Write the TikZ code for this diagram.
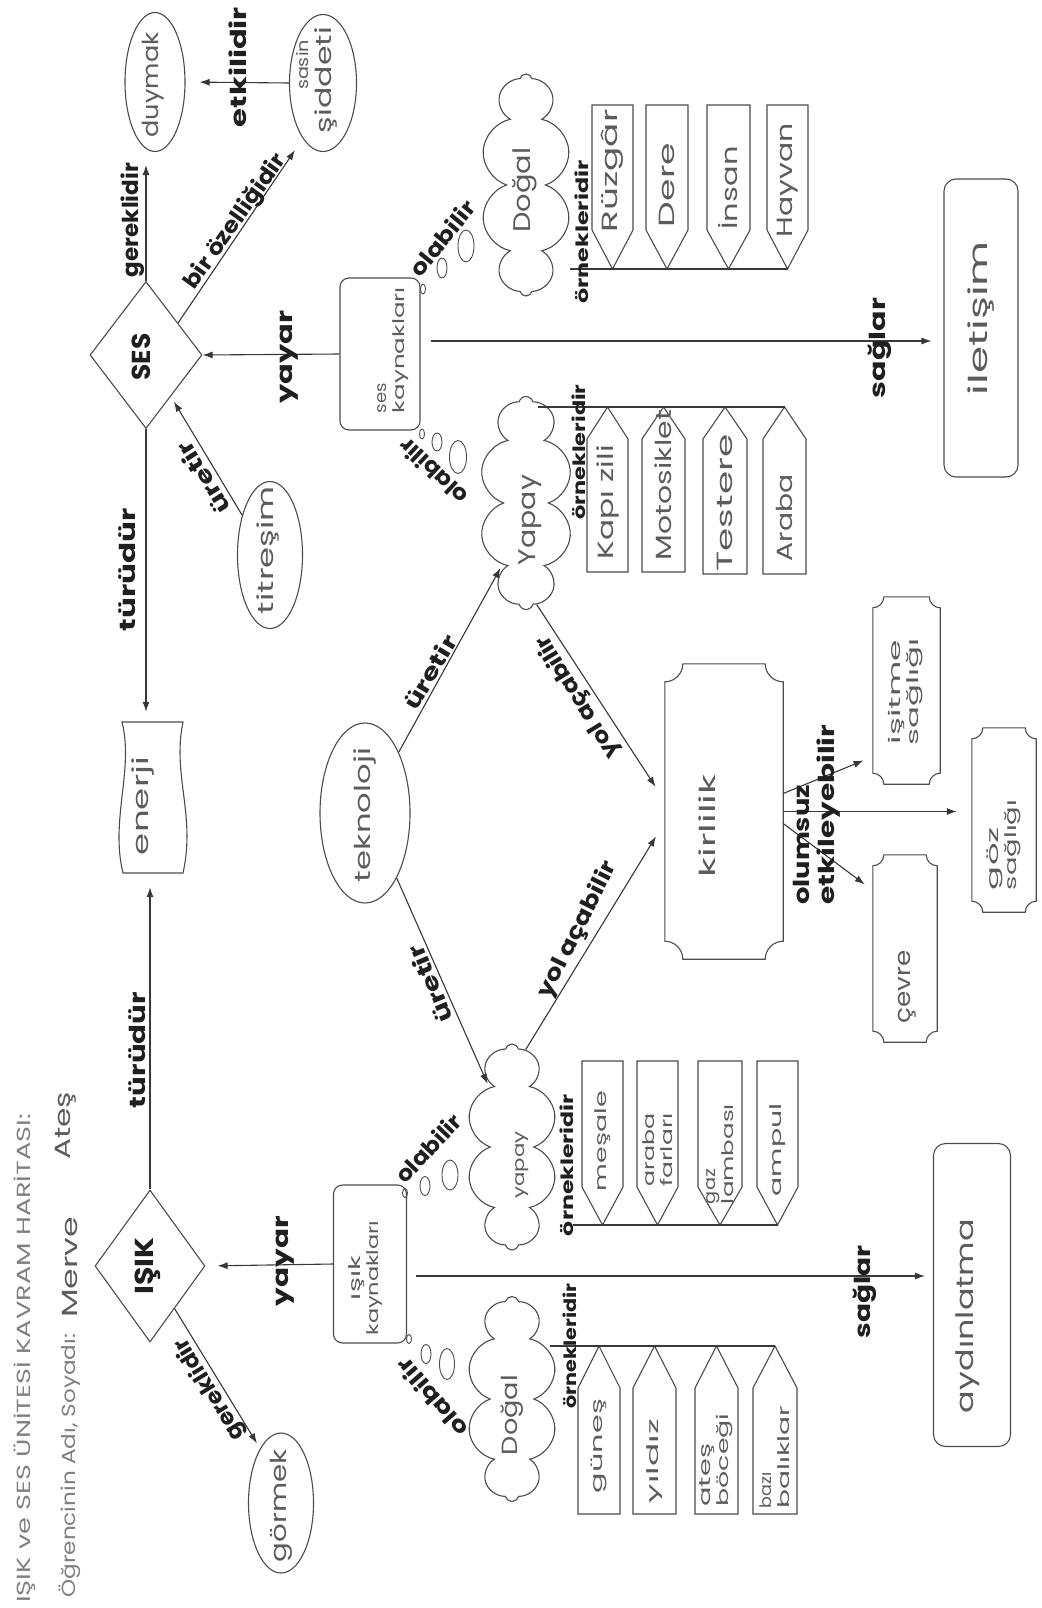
\documentclass[tikz,border=0pt]{standalone}
\usepackage{fontspec}
\usepackage{graphicx}
\setmainfont{Poppins}
\usetikzlibrary{shapes.geometric,shapes.symbols,arrows.meta,fit}
\newcommand\fitw[2]{\resizebox{#1pt}{\height}{#2}}
\newcommand\plaque[3]{%
  \draw[shp] ([xshift=#2pt]#1.north west) -- ([xshift=-#2pt]#1.north east)
    .. controls ([xshift=-#2pt,yshift=-#3pt]#1.north east) and ([xshift=-#3pt,yshift=-#2pt]#1.north east) .. ([yshift=-#2pt]#1.north east)
    -- ([yshift=#2pt]#1.south east)
    .. controls ([xshift=-#3pt,yshift=#2pt]#1.south east) and ([xshift=-#2pt,yshift=#3pt]#1.south east) .. ([xshift=-#2pt]#1.south east)
    -- ([xshift=#2pt]#1.south west)
    .. controls ([xshift=#2pt,yshift=#3pt]#1.south west) and ([xshift=#3pt,yshift=#2pt]#1.south west) .. ([yshift=#2pt]#1.south west)
    -- ([yshift=-#2pt]#1.north west)
    .. controls ([xshift=#3pt,yshift=-#2pt]#1.north west) and ([xshift=#2pt,yshift=-#3pt]#1.north west) .. ([xshift=#2pt]#1.north west)
    -- cycle;}
\newcommand\pent[9]{%
  \draw[shp] (#2,#4) -- (#3,#4) -- (#3,#5) -- ({(#2+#3)/2},#6) -- (#2,#5) -- cycle;
  \coordinate (#1tip) at ({(#2+#3)/2},#6);
  \node[hw, rotate=90, #9] (#1) at ({(#2+#3)/2},#7) {#8};}
\begin{document}
\begin{tikzpicture}[x=1pt, y=-1pt,
  shp/.style={draw=black!70, line width=1.1pt},
  ln/.style={draw=black!78, line width=1.1pt},
  arr/.style={ln, -{Latex[length=10pt,width=7pt]}},
  hw/.style={font=\fontsize{22}{25}\selectfont, text=black!64, inner sep=0pt, align=center},
  hws/.style={font=\fontsize{16}{18}\selectfont},
  lbl/.style={font=\fontsize{22}{25}\selectfont\bfseries, text=black!88, inner sep=0pt, align=center},
  lbl2/.style={font=\fontsize{17}{19}\selectfont\bfseries, text=black!88, inner sep=0pt},
  ttl/.style={font=\fontsize{19}{22}\selectfont, text=black!50, inner sep=0pt},
  ell/.style={ellipse, shp, inner sep=0pt},
  dia/.style={diamond, shp, inner sep=0pt},
  rbox/.style={rectangle, rounded corners=9pt, shp, inner sep=0pt},
  cld/.style={cloud, cloud puffs=10, cloud ignores aspect, shp, inner sep=0pt},
  bub/.style={ellipse, draw=black!70, line width=0.9pt, inner sep=0pt},
  ghost/.style={inner sep=0pt}]
\fill[white] (0,0) rectangle (1041,1608);
\useasboundingbox (0,0) rectangle (1041,1608);

% title
\node[ttl, rotate=90, anchor=west] (title) at (25,1603) {\fitw{489}{IŞIK ve SES ÜNİTESİ KAVRAM HARİTASI:}};
\node[ttl, rotate=90, anchor=west] (ogr) at (70,1598) {\fitw{264}{Öğrencinin Adı, Soyadı:}};
\node[hw, rotate=90, anchor=west] (merve) at (70,1318) {\fitw{101}{Merve}};
\node[hw, rotate=90, anchor=west] (ates) at (66,1160) {\fitw{68}{Ateş}};

% SES side
\node[dia, minimum width=112pt, minimum height=147pt] (SES) at (146,355) {};
\node[lbl, rotate=90, font=\fontsize{26}{28}\selectfont\bfseries] (SEST) at (141,357) {\fitw{47}{SES}};
\node[ell, minimum width=60pt, minimum height=139pt] (duymak) at (155,82) {};
\node[hw, rotate=90] (duymakT) at (153,85) {\fitw{105}{duymak}};
\node[ell, minimum width=67pt, minimum height=137pt] (sasin) at (323,83) {};
\node[hw, hws, rotate=90] (sasinT) at (302,65) {\fitw{50}{sasin}};
\node[hw, rotate=90] (siddetiT) at (326,80) {\fitw{106}{şiddeti}};
\node[ell, minimum width=65pt, minimum height=147pt] (titresim) at (270,555) {};
\node[hw, rotate=90] (titresimT) at (268,550) {\fitw{128}{titreşim}};

\node[ghost, fit={(122,722) (183,873)}] (enerji) {};
\draw[shp] (122,722) -- (183,722) .. controls (172,775) and (196,815) .. (183,873) -- (123,873) .. controls (110,820) and (134,770) .. (122,722) -- cycle;
\node[hw, rotate=90] (enerjiT) at (143,806) {\fitw{98}{enerji}};

\node[ell, minimum width=90pt, minimum height=180pt] (tek) at (365,813) {};
\node[hw, rotate=90] (tekT) at (365,815) {\fitw{134}{teknoloji}};

\node[rbox, minimum width=80pt, minimum height=152pt] (sesk) at (380,354) {};
\node[hw, hws, rotate=90, align=left] (seskT) at (393,350) {\fitw{30}{ses}\\\fitw{126}{kaynakları}};

\node[rbox, rounded corners=12pt, minimum width=74pt, minimum height=298pt] (ilet) at (981,328) {};
\node[hw, font=\fontsize{26}{28}\selectfont, rotate=90] (iletT) at (981,318) {\fitw{154}{iletişim}};

% clouds
\node[cld, minimum width=90pt, minimum height=222pt] (sDog) at (526,185) {};
\node[hw, font=\fontsize{24}{26}\selectfont, rotate=90] (sDogT) at (525,190) {\fitw{85}{Doğal}};
\node[cld, minimum width=93pt, minimum height=213pt] (sYap) at (526,503) {};
\node[hw, font=\fontsize{24}{26}\selectfont, rotate=90] (sYapT) at (530,520) {\fitw{90}{Yapay}};
\node[cld, minimum width=90pt, minimum height=206pt] (iYap) at (512,1147) {};
\node[hw, hws, rotate=90] (iYapT) at (522,1165) {\fitw{67}{yapay}};
\node[cld, minimum width=90pt, minimum height=205pt] (iDog) at (512,1399) {};
\node[hw, rotate=90] (iDogT) at (512,1415) {\fitw{80}{Doğal}};

% bubbles
\node[bub, minimum width=5pt, minimum height=10pt] (b1) at (423,289) {};
\node[bub, minimum width=10pt, minimum height=20pt] (b2) at (442,268) {};
\node[bub, minimum width=16pt, minimum height=32pt] (b3) at (466,246) {};
\node[bub, minimum width=5pt, minimum height=10pt] (b4) at (422,434) {};
\node[bub, minimum width=10pt, minimum height=18pt] (b5) at (437,442) {};
\node[bub, minimum width=17pt, minimum height=33pt] (b6) at (458,457) {};
\node[bub, minimum width=5pt, minimum height=9pt] (b7) at (405,1193) {};
\node[bub, minimum width=10pt, minimum height=19pt] (b8) at (425,1186) {};
\node[bub, minimum width=16pt, minimum height=30pt] (b9) at (450,1175) {};
\node[bub, minimum width=5pt, minimum height=9pt] (b10) at (409,1339) {};
\node[bub, minimum width=10pt, minimum height=19pt] (b11) at (426,1354) {};
\node[bub, minimum width=15pt, minimum height=31pt] (b12) at (447,1364) {};

% examples: ses dogal
\pent{rz}{592}{633}{105}{230}{269}{171}{\fitw{123}{Rüzgâr}}{}
\pent{de}{646}{688}{105}{230}{269}{185}{\fitw{84}{Dere}}{}
\pent{ins}{707}{750}{105}{230}{269}{188}{\fitw{83}{İnsan}}{}
\pent{hy}{767}{808}{105}{230}{269}{180}{\fitw{114}{Hayvan}}{}
\coordinate (sdL) at (570,269);
\draw[ln] (sdL) -- (hytip);
\node[lbl2, rotate=90] (or1) at (582,232) {\fitw{143}{örnekleridir}};
% examples: ses yapay
\pent{kz}{587}{628}{572}{439}{407}{502}{\fitw{114}{Kapı zili}}{}
\pent{mt}{642}{685}{572}{439}{407}{485}{\fitw{150}{Motosiklet}}{}
\pent{ts}{703}{747}{574}{439}{407}{503}{\fitw{137}{Testere}}{}
\pent{ar}{763}{806}{574}{439}{407}{518}{\fitw{87}{Araba}}{}
\coordinate (syL) at (538,407);
\draw[ln] (syL) -- (artip);
\node[lbl2, rotate=90] (or2) at (579,452) {\fitw{135}{örnekleridir}};
% examples: isik yapay
\pent{ms}{582}{623}{1061}{1187}{1225}{1141}{\fitw{100}{meşale}}{hws}
\pent{af}{637}{678}{1061}{1187}{1225}{1150}{\fitw{73}{araba}\\\fitw{73}{farları}}{hws, align=left}
\pent{gl}{698}{742}{1061}{1187}{1225}{1154}{\fitw{35}{gaz}\\\fitw{100}{lambası}}{hws, align=left}
\pent{am}{757}{798}{1061}{1187}{1225}{1150}{\fitw{93}{ampul}}{hws}
\coordinate (iyL) at (573,1225);
\draw[ln] (iyL) -- (amtip);
\node[lbl2, rotate=90] (or3) at (567,1165) {\fitw{142}{örnekleridir}};
% examples: isik dogal
\pent{gn}{578}{620}{1514}{1388}{1346}{1446}{\fitw{94}{güneş}}{hws}
\pent{yz}{633}{676}{1514}{1388}{1346}{1461}{\fitw{84}{yıldız}}{hws}
\pent{ab}{695}{738}{1514}{1388}{1346}{1460}{\fitw{63}{ateş}\\\fitw{93}{böceği}}{hws, align=left}
\pent{bb}{753}{797}{1514}{1388}{1346}{1457}{\fitw{36}{bazı}\\\fitw{103}{balıklar}}{hws, align=left}
\coordinate (idL) at (550,1346);
\draw[ln] (idL) -- (bbtip);
\node[lbl2, rotate=90] (or4) at (570,1346) {\fitw{125}{örnekleridir}};

% kirlilik and effects
\node[ghost, fit={(665,664) (783,959)}] (kir) {};
\plaque{kir}{18}{9.9}
\node[hw, rotate=90] (kirT) at (707,826) {\fitw{103}{kirlilik}};
\node[ghost, fit={(873,597) (940,784)}] (isit) {};
\plaque{isit}{11}{6}
\node[hw, hws, rotate=90] (isitT) at (906,692) {\fitw{104}{işitme}\\\fitw{107}{sağlığı}};
\node[ghost, fit={(972,728) (1036,912)}] (goz) {};
\plaque{goz}{11}{6}
\node[hw, hws, rotate=90, align=left] (gozT) at (1004,845) {\fitw{63}{göz}\\\fitw{90}{sağlığı}};
\node[ghost, fit={(873,855) (937,1042)}] (cevre) {};
\plaque{cevre}{11}{6}
\node[hw, rotate=90] (cevreT) at (907,987) {\fitw{73}{çevre}};

% ISIK side
\node[dia, minimum width=110pt, minimum height=152pt] (ISIK) at (150,1266) {};
\node[lbl, rotate=90, font=\fontsize{26}{28}\selectfont\bfseries] (ISIKT) at (148,1266) {\fitw{57}{IŞIK}};
\node[ell, minimum width=65pt, minimum height=140pt] (gormek) at (281,1503) {};
\node[hw, rotate=90] (gormekT) at (281,1506) {\fitw{113}{görmek}};
\node[rbox, minimum width=73pt, minimum height=158pt] (isk) at (370,1264) {};
\node[hw, hws, rotate=90] (iskT) at (366,1278) {\fitw{44}{ışık}\\\fitw{115}{kaynakları}};
\node[rbox, rounded corners=12pt, minimum width=77pt, minimum height=303pt] (ayd) at (972,1295) {};
\node[hw, font=\fontsize{24}{26}\selectfont, rotate=90] (aydT) at (968,1316) {\fitw{194}{aydınlatma}};

% connectors
\draw[arr, shorten >=13pt] (SES.north) -- (SES.north |- duymak.south);
\draw[arr, shorten >=14pt] (SES.45) -- (sasin.250);
\draw[arr, shorten >=14pt] (sasin.west) -- (duymak.east);
\draw[arr] (sesk.west) -- (SES.east);
\coordinate (sg1) at ([xshift=10pt,yshift=13pt]sesk.east);
\draw[arr, shorten >=12pt] (sg1) -- (sg1 -| ilet.west);
\draw[arr, shorten >=10pt] (SES.south) -- (SES.south |- enerji.north);
\draw[arr, shorten >=6pt] (titresim.125) -- (SES);
\draw[arr, shorten >=4pt] (tek.61) -- (sYap.249);
\draw[arr, shorten >=4pt] (tek.-64) -- (iYap.111);
\draw[arr, shorten >=17pt] (sYap.-84) -- (kir.170);
\draw[arr, shorten >=17pt] (iYap.82) -- (kir.190);
\draw[arr, shorten >=10pt] ([yshift=18pt]kir.east) -- (isit.243);
\draw[arr, shorten >=15pt] (kir.east) -- (kir.east -| goz.west);
\draw[arr, shorten >=10pt] ([yshift=-12pt]kir.east) -- (cevre.119);
\draw[arr, shorten >=14pt] (ISIK.north) -- (ISIK.north |- enerji.south);
\draw[arr, shorten >=12pt] (isk.west) -- (ISIK.east);
\coordinate (sg2) at ([xshift=9pt,yshift=-12pt]isk.east);
\draw[arr, shorten >=8pt] (sg2) -- (sg2 -| ayd.west);
\draw[arr, shorten >=6pt] (ISIK.-60) -- (gormek.111);

% labels
\node[lbl, rotate=90] (l1) at (133,220) {\fitw{114}{gereklidir}};
\node[lbl, rotate=54.7] (l2) at (236,222) {\fitw{160}{bir özelliğidir}};
\node[lbl, rotate=90] (l3) at (238,67) {\fitw{120}{etkilidir}};
\node[lbl, rotate=90] (l4) at (289,357) {\fitw{93}{yayar}};
\node[lbl, rotate=90] (l5) at (880,348) {\fitw{100}{sağlar}};
\node[lbl, rotate=90] (l6) at (127,570) {\fitw{123}{türüdür}};
\node[lbl, rotate=122.5] (l7) at (203,478) {\fitw{80}{üretir}};
\node[lbl, rotate=50.7] (l8) at (442,238) {\fitw{90}{olabilir}};
\node[lbl, rotate=136.8] (l9) at (433,472) {\fitw{85}{olabilir}};
\node[lbl, rotate=59] (l10) at (430,672) {\fitw{82}{üretir}};
\node[lbl, rotate=121.2] (l11) at (578,697) {\fitw{140}{yol açabilir}};
\node[lbl, rotate=90, anchor=north west, align=left] (l12) at (793,905) {\fitw{120}{olumsuz}\\\fitw{180}{etkileyebilir}};
\node[lbl, rotate=90] (l13) at (137,1050) {\fitw{116}{türüdür}};
\node[lbl, rotate=112.7] (l14) at (430,984) {\fitw{82}{üretir}};
\node[lbl, rotate=63.3] (l15) at (578,930) {\fitw{150}{yol açabilir}};
\node[lbl, rotate=46.8] (l16) at (428,1148) {\fitw{85}{olabilir}};
\node[lbl, rotate=90] (l17) at (285,1261) {\fitw{90}{yayar}};
\node[lbl, rotate=90] (l18) at (865,1292) {\fitw{93}{sağlar}};
\node[lbl, rotate=131] (l19) at (432,1398) {\fitw{95}{olabilir}};
\node[lbl, rotate=121.4] (l20) at (210,1389) {\fitw{115}{gereklidir}};
\end{tikzpicture}
\end{document}
